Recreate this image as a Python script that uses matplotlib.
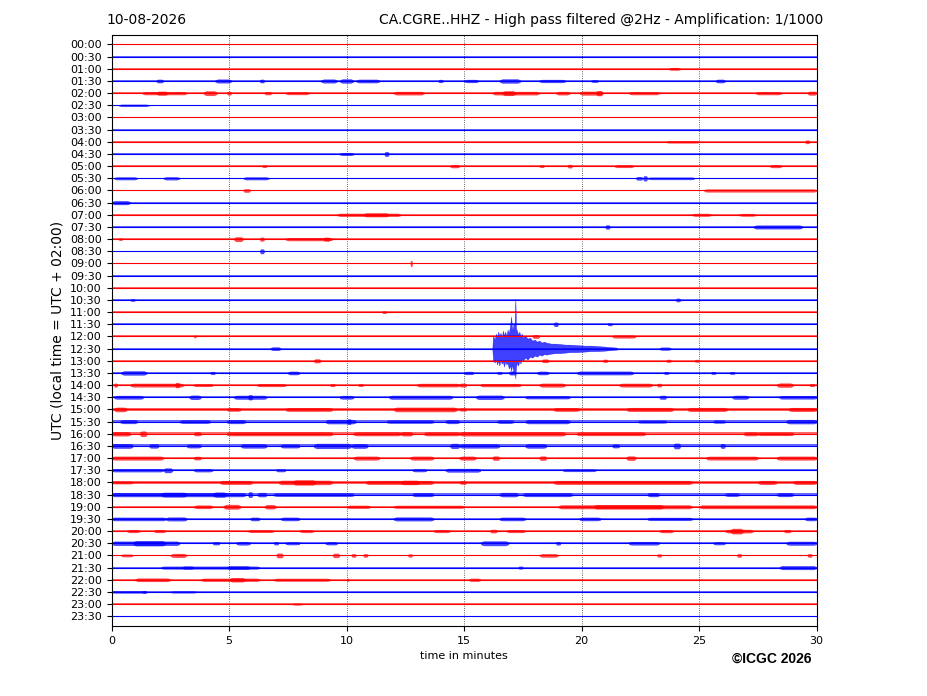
import matplotlib
matplotlib.use("Agg")
import matplotlib.pyplot as plt
import numpy as np

# ---------------- data ----------------
DATE_TEXT = "10-08-2026"
TITLE_TEXT = "CA.CGRE..HHZ - High pass filtered @2Hz - Amplification: 1/1000"
ROW_LABELS = [f"{h:02d}:{m:02d}" for h in range(24) for m in (0, 30)]
X_TICKS = [0, 5, 10, 15, 20, 25, 30]

# background noise half-height of each trace (pixels)
BASE_PX = [0.4, 0.5, 0.7, 1.0, 0.8, 0.6, 0.6, 0.6, 0.8, 0.9, 0.9, 0.8,
           0.8, 0.9, 0.9, 0.8, 0.9, 0.8, 0.7, 0.8, 0.9, 0.9, 0.8, 0.9,
           1.0, 0.9, 1.0, 1.1, 1.2, 1.2, 1.2, 1.2, 1.4, 1.5, 1.3, 1.0,
           1.1, 1.3, 1.0, 1.2, 0.8, 1.1, 0.9, 0.9, 0.9, 0.7, 0.6, 0.5]

# noise bursts per trace: (start minute, end minute, half-height in pixels)
BURSTS = [
    [],
    [],
    [(23.7, 24.2, 1.4)],
    [(1.9, 2.2, 1.8), (4.4, 5.1, 2.0), (6.3, 6.5, 1.8), (8.9, 9.6, 2.0), (9.7, 10.3, 2.2),
     (10.4, 11.4, 1.8), (13.9, 14.1, 1.6), (15.0, 15.6, 1.6), (16.5, 17.4, 2.2),
     (18.2, 19.3, 1.6), (20.4, 20.7, 1.4), (25.7, 26.1, 1.8)],
    [(1.3, 3.2, 1.6), (1.9, 2.4, 2.0), (3.9, 4.5, 2.4), (4.9, 5.1, 1.8), (6.5, 6.8, 1.6),
     (7.4, 8.4, 1.5), (12.0, 13.3, 1.8), (16.2, 18.2, 1.8), (16.6, 17.2, 2.4),
     (18.9, 19.5, 1.8), (19.9, 20.9, 2.0), (20.6, 20.9, 2.6), (22.0, 23.3, 1.6),
     (27.4, 28.5, 1.6), (29.6, 30.0, 2.0)],
    [(0.3, 1.6, 1.2)],
    [],
    [],
    [(23.6, 25.0, 1.2), (29.5, 29.7, 1.8)],
    [(9.7, 10.3, 1.5), (11.6, 11.8, 2.4)],
    [(6.4, 6.6, 1.3), (14.4, 14.8, 1.6), (18.2, 18.4, 1.4), (19.4, 19.6, 1.8),
     (21.4, 22.2, 1.4), (28.0, 28.5, 1.5)],
    [(0.1, 1.1, 1.5), (2.2, 2.9, 1.6), (5.6, 6.7, 1.5), (22.3, 22.6, 1.8),
     (22.6, 22.8, 2.6), (22.8, 24.8, 1.3)],
    [(5.6, 5.9, 1.8), (25.2, 30.0, 1.6)],
    [(0.0, 0.8, 2.0)],
    [(9.6, 12.3, 1.6), (10.7, 11.8, 2.0), (24.7, 25.5, 1.5), (26.7, 27.4, 1.4)],
    [(21.0, 21.2, 2.2), (27.3, 29.4, 2.0)],
    [(0.3, 0.45, 1.3), (5.2, 5.6, 2.4), (6.3, 6.5, 2.0), (7.4, 9.4, 1.6), (9.0, 9.3, 2.0)],
    [(6.3, 6.5, 2.4)],
    [(12.7, 12.8, 3.0)],
    [],
    [],
    [(0.8, 1.0, 1.3), (24.0, 24.2, 1.8)],
    [(11.5, 11.7, 1.3)],
    [(18.8, 19.0, 2.2), (21.1, 21.3, 1.4)],
    [(3.5, 3.6, 1.3), (17.9, 18.2, 1.9), (21.3, 22.3, 1.6)],
    [(6.75, 7.2, 1.8), (23.3, 23.8, 1.6)],
    [(8.6, 8.9, 2.0), (18.3, 18.6, 1.8), (20.9, 21.1, 1.6), (23.6, 23.8, 1.5),
     (24.8, 25.0, 1.4)],
    [(0.4, 1.5, 2.2), (4.2, 4.4, 1.5), (7.5, 8.0, 1.8), (15.0, 15.4, 1.6), (16.4, 16.6, 1.4),
     (16.9, 17.2, 2.0), (18.1, 18.6, 1.8), (19.8, 22.2, 1.9), (23.5, 23.7, 1.4),
     (25.5, 25.7, 1.4), (26.3, 26.5, 1.4)],
    [(0.1, 0.25, 2.0), (0.8, 3.05, 1.9), (2.7, 2.9, 2.6), (3.5, 4.3, 1.4), (6.2, 7.4, 1.5),
     (9.3, 9.5, 1.5), (10.5, 10.7, 1.4), (13.0, 14.8, 1.8), (14.8, 15.1, 2.0),
     (15.7, 17.4, 1.6), (18.2, 19.3, 2.0), (21.6, 23.0, 1.9), (23.2, 23.4, 1.8),
     (28.3, 29.0, 2.2), (29.7, 29.9, 1.5)],
    [(0.1, 1.35, 1.9), (3.3, 3.8, 2.2), (5.2, 6.6, 2.0), (5.8, 6.0, 2.6), (9.7, 10.3, 1.9),
     (11.8, 14.5, 2.0), (15.5, 16.7, 2.2), (17.6, 19.5, 1.6), (23.3, 23.6, 2.0),
     (26.4, 27.1, 2.0), (28.4, 30.0, 1.8)],
    [(0.1, 0.65, 2.3), (4.9, 5.5, 1.8), (7.4, 9.4, 1.9), (12.0, 14.7, 2.3), (14.8, 15.1, 1.6),
     (18.8, 19.9, 1.9), (21.9, 23.9, 2.0), (24.5, 26.2, 2.0), (28.8, 30.0, 2.0)],
    [(0.36, 1.1, 2.0), (2.9, 4.2, 1.8), (4.9, 5.7, 2.0), (9.1, 10.4, 2.2), (10.0, 10.2, 2.8),
     (11.7, 13.7, 1.7), (14.2, 14.8, 2.0), (16.4, 17.1, 1.8), (17.6, 19.5, 2.1),
     (22.4, 23.6, 1.5), (25.6, 26.1, 1.6), (28.7, 30.0, 2.2)],
    [(0.0, 0.8, 2.2), (1.2, 1.5, 2.8), (3.5, 3.8, 2.0), (4.9, 9.4, 2.0), (10.3, 12.3, 2.0),
     (12.3, 12.8, 2.2), (13.3, 14.8, 2.0), (14.8, 19.3, 2.2), (19.8, 22.7, 1.9),
     (26.9, 27.5, 2.0), (27.5, 29.0, 1.8)],
    [(0.0, 0.9, 2.4), (1.6, 2.0, 2.2), (3.2, 3.8, 2.0), (5.5, 6.6, 2.2), (7.2, 8.0, 2.0),
     (8.6, 10.2, 2.6), (10.2, 10.9, 2.4), (14.4, 14.8, 2.6), (14.8, 16.5, 2.2),
     (17.6, 18.5, 2.3), (21.3, 21.6, 1.9), (23.9, 24.2, 2.8), (25.9, 26.1, 2.4)],
    [(0.0, 2.2, 2.0), (3.5, 3.8, 1.8), (10.3, 11.4, 2.0), (12.7, 13.7, 2.0), (14.8, 15.5, 2.0),
     (16.2, 16.5, 2.2), (18.2, 18.5, 2.2), (21.9, 22.3, 2.2), (25.3, 27.5, 1.9),
     (28.3, 30.0, 2.0)],
    [(0.0, 2.2, 1.6), (2.2, 2.6, 2.4), (3.5, 4.3, 1.6), (7.0, 7.4, 1.5), (12.8, 13.4, 1.5),
     (14.2, 15.7, 1.9), (19.2, 20.6, 1.3)],
    [(0.0, 0.9, 1.4), (4.6, 6.0, 2.0), (7.1, 9.4, 2.2), (7.7, 8.7, 2.6), (10.8, 13.7, 2.0),
     (12.3, 13.1, 2.2), (14.8, 15.1, 1.8), (18.8, 24.7, 2.0), (27.5, 28.3, 2.0),
     (29.0, 30.0, 2.0)],
    [(0.0, 5.7, 2.1), (2.1, 3.2, 2.4), (4.3, 4.9, 2.6), (5.8, 6.0, 2.8), (6.2, 6.6, 2.2),
     (6.9, 10.3, 1.8), (12.8, 13.7, 2.0), (16.5, 17.3, 2.2), (17.5, 19.6, 2.0),
     (22.8, 23.3, 2.1), (26.1, 26.7, 1.8), (28.3, 29.0, 2.0)],
    [(3.5, 4.3, 1.8), (4.75, 5.5, 2.4), (6.5, 7.0, 2.2), (10.0, 11.0, 1.6), (12.0, 15.0, 1.5),
     (19.0, 24.7, 2.0), (20.5, 23.5, 2.2), (25.0, 30.0, 1.9)],
    [(0.0, 2.3, 1.8), (2.3, 3.2, 2.0), (5.9, 6.3, 1.8), (7.2, 8.0, 1.8), (12.0, 13.7, 2.0),
     (16.5, 17.6, 1.8), (19.9, 20.8, 1.8), (22.8, 24.7, 1.6), (29.5, 30.0, 1.8)],
    [(0.65, 1.2, 1.5), (1.8, 2.3, 1.5), (5.8, 6.9, 1.4), (8.0, 8.6, 1.5), (13.7, 14.4, 1.5),
     (16.1, 16.4, 1.8), (16.8, 17.6, 1.5), (23.3, 23.9, 1.6), (26.1, 27.3, 1.8),
     (26.3, 26.9, 2.8), (28.6, 28.9, 1.6)],
    [(0.0, 2.9, 2.2), (0.9, 2.3, 2.6), (4.3, 4.6, 1.6), (5.3, 5.9, 1.8), (6.9, 7.1, 1.6),
     (7.4, 8.0, 1.5), (9.1, 9.6, 1.6), (15.7, 16.9, 2.4), (18.9, 19.1, 1.8),
     (22.0, 23.3, 1.8), (25.6, 26.1, 1.5), (28.7, 30.0, 2.0)],
    [(0.4, 0.9, 1.4), (2.5, 3.2, 2.0), (7.0, 7.3, 2.4), (9.4, 9.7, 2.2), (10.2, 10.4, 1.8),
     (10.7, 10.9, 1.8), (12.6, 12.8, 1.6), (18.2, 19.0, 1.8), (23.2, 23.4, 1.6),
     (26.6, 26.8, 1.8), (29.6, 29.8, 1.8)],
    [(2.1, 6.3, 1.5), (3.0, 3.5, 1.6), (4.9, 5.9, 1.8), (17.3, 17.5, 1.5), (28.4, 30.0, 2.0)],
    [(1.0, 2.5, 1.8), (3.8, 6.3, 1.6), (5.0, 5.7, 2.2), (6.9, 9.3, 1.5), (10.0, 10.1, 1.5),
     (15.2, 15.7, 1.6)],
    [(0.0, 1.5, 1.2), (1.3, 1.5, 1.4), (2.5, 3.6, 1.1)],
    [(7.7, 8.1, 1.0)],
    [],
]

# earthquake on the 12:30 trace: minutes, upward and downward half-heights (pixels)
QUAKE_ROW = 25
QUAKE_T = [16.2, 16.23, 16.3, 16.35, 16.4, 16.45, 16.5, 16.55, 16.6, 16.65, 16.7, 16.75,
           16.8, 16.85, 16.9, 16.95, 17.0, 17.05, 17.1, 17.15, 17.18, 17.21, 17.25, 17.3,
           17.35, 17.4, 17.45, 17.5, 17.6, 17.7, 17.8, 17.9, 18.0, 18.1, 18.2, 18.3,
           18.4, 18.5, 18.7, 18.9, 19.1, 19.3, 19.5, 19.8, 20.1, 20.4, 20.7, 21.0, 21.5]
QUAKE_UP = [0, 13, 9, 15, 11, 17, 12, 16, 10, 18, 13, 17, 12, 19, 15, 22, 32, 18, 24,
            26, 50, 20, 18, 14, 17, 12, 15, 11, 13, 10, 11, 8, 9, 7, 8, 6, 7, 6, 5,
            5, 4.5, 4, 4, 3.5, 3, 3, 2.5, 2, 1]
QUAKE_DOWN = [0, 11, 14, 10, 16, 12, 17, 11, 15, 13, 18, 12, 16, 14, 20, 17, 22, 16,
              24, 20, 30, 18, 14, 17, 12, 15, 10, 12, 9, 11, 8, 9, 7, 8, 6, 7, 5.5, 6,
              5, 4.5, 4.5, 4, 3.5, 3.5, 3, 2.5, 2.5, 2, 1]

RED = "#ff0000"
BLUE = "#0000ff"

# ---------------- figure ----------------
fig = plt.figure(figsize=(9.27, 6.96), dpi=100)
ax = fig.add_axes([0.1203, 0.1006, 0.7607, 0.8491])
n = len(ROW_LABELS)
y_top, y_bot = -0.78, n - 1 + 0.8
ax.set_xlim(0, 30)
ax.set_ylim(y_bot, y_top)
ppr = 0.8491 * 696 / (y_bot - y_top)  # pixels per row

for i in range(n):
    c = RED if i % 2 == 0 else BLUE
    b = BASE_PX[i] / ppr
    ax.fill_between([0, 30], [i - b, i - b], [i + b, i + b], color=c, alpha=0.6, lw=0)
    ax.plot([0, 30], [i, i], color=c, lw=0.8)
    for (t0, t1, p) in BURSTS[i]:
        d = min(0.12, 0.2 * (t1 - t0))
        a = np.array([b, p / ppr, p / ppr, b])
        t = [t0, t0 + d, t1 - d, t1]
        ax.fill_between(t, i - a, i + a, color=c, alpha=0.7, lw=0)

qu = np.array(QUAKE_UP) / ppr
qd = np.array(QUAKE_DOWN) / ppr
ax.fill_between(QUAKE_T, QUAKE_ROW - qu, QUAKE_ROW + qd, color=BLUE, alpha=0.75, lw=0.3)

ax.set_yticks(range(n))
ax.set_yticklabels(ROW_LABELS)
ax.set_xticks(X_TICKS)
ax.tick_params(labelsize=8)
for xv in X_TICKS[1:-1]:
    ax.axvline(xv, color="#333333", ls=":", lw=0.6, zorder=0.5)

ax.set_xlabel("time in minutes", fontsize=8)
ax.set_ylabel("UTC (local time = UTC + 02:00)", fontsize=10)

fig.text(106 / 927, 1 - 20 / 696, DATE_TEXT, fontsize=10, ha="left", va="center")
fig.text(823 / 927, 1 - 20 / 696, TITLE_TEXT, fontsize=10, ha="right", va="center")
fig.text(811 / 927, 1 - 659 / 696, "©ICGC 2026", fontsize=10, fontweight="bold",
         family=["Liberation Sans", "DejaVu Sans"], ha="right", va="center")

fig.savefig("out.png", dpi=100)
